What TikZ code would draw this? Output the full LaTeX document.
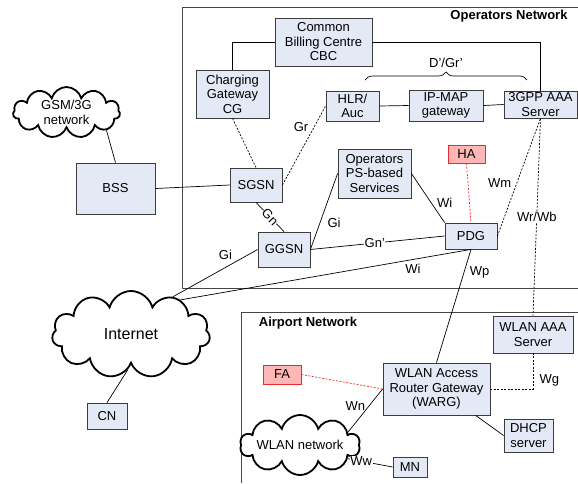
\documentclass[tikz,border=0pt]{standalone}
\usepackage{fontspec}
\setmainfont{Liberation Sans}
\usetikzlibrary{shapes.symbols, decorations.pathreplacing}

\definecolor{boxfill}{RGB}{228,234,245}
\definecolor{boxline}{RGB}{60,60,60}
\definecolor{hafill}{RGB}{255,182,182}
\definecolor{haline}{RGB}{240,40,40}
\definecolor{frameline}{RGB}{70,70,70}

\begin{document}
\begin{tikzpicture}[
                x=1pt, y=-1pt,
                font=\fontsize{13}{14.5}\selectfont,
                box/.style={draw=boxline, fill=boxfill, line width=0.8pt, inner sep=0pt, align=center},
                redbox/.style={draw=haline, fill=hafill, line width=0.8pt, inner sep=0pt},
                netcloud/.style={cloud, cloud puffs=11, cloud ignores aspect, draw, line width=1.8pt, fill=white, inner sep=0pt, align=center},
                link/.style={line width=0.7pt},
                dlink/.style={line width=0.7pt, dash pattern=on 2pt off 1.5pt},
                rlink/.style={line width=0.7pt, haline, dash pattern=on 2pt off 1.5pt},
                onlink/.style={fill=white, inner sep=0.5pt},
                frame/.style={draw=frameline, line width=1pt},
                title/.style={font=\fontsize{13}{14.5}\selectfont\bfseries}
                ]
                \useasboundingbox (0,0) rectangle (578,483);

                % Define the frames
                \draw[frame] (578,7) -- (182,7) -- (182,288) -- (578,288);
                \draw[frame] (578,312) -- (241,312) -- (241,483);
                \node (opnet) [title] at (509,16) {Operators Network};
                \node (apnet) [title] at (308,323) {Airport Network};

                % Define the nodes
                \node (cbc) [box, minimum width=97pt, minimum height=48pt] at (323.5,42) {Common\\Billing Centre\\CBC};
                \node (cg) [box, minimum width=73pt, minimum height=48pt] at (232.5,94) {Charging\\Gateway\\CG};
                \node (hlr) [box, minimum width=53pt, minimum height=30pt] at (352.5,106) {HLR/\\Auc};
                \node (ipmap) [box, minimum width=74pt, minimum height=31pt] at (446,105.5) {IP-MAP\\gateway};
                \node (aaa) [box, minimum width=73pt, minimum height=27pt] at (540.5,104.5) {3GPP AAA\\Server};
                \node (ha) [redbox, minimum width=37pt, minimum height=18pt] at (466.5,154) {HA};
                \node (ops) [box, minimum width=73pt, minimum height=49pt] at (374.5,173.5) {Operators\\PS-based\\Services};
                \node (pdg) [box, minimum width=52pt, minimum height=26pt] at (471,236) {PDG};
                \node (sgsn) [box, minimum width=52pt, minimum height=34pt] at (256,185) {SGSN};
                \node (bss) [box, minimum width=79pt, minimum height=51pt] at (115.5,188.5) {BSS};
                \node (ggsn) [box, minimum width=52pt, minimum height=35pt] at (284,249.5) {GGSN};
                \node (cn) [box, minimum width=40pt, minimum height=26pt] at (107,416) {CN};
                \node (fa) [redbox, minimum width=38pt, minimum height=19pt] at (282,374.5) {FA};
                \node (warg) [box, minimum width=107pt, minimum height=52pt] at (436.5,389) {WLAN Access\\Router Gateway\\(WARG)};
                \node (wlanaaa) [box, minimum width=80pt, minimum height=37pt] at (533,334.5) {WLAN AAA\\Server};
                \node (dhcp) [box, minimum width=49pt, minimum height=33pt] at (528.5,435.5) {DHCP\\server};
                \node (mn) [box, minimum width=34pt, minimum height=20pt] at (410,467) {MN};

                \node (gsm) [netcloud, minimum width=107pt, minimum height=51pt] at (66.5,112.5) {GSM/3G\\network};
                \node (inet) [netcloud, minimum width=158pt, minimum height=87pt, font=\fontsize{16}{18}\selectfont] at (131,334.5) {Internet};
                \node (wlan) [netcloud, cloud puffs=10, minimum width=114pt, minimum height=60pt] at (300,445) {WLAN network};

                % Draw the links
                \draw[link] (cg.north) |- (cbc.west);
                \draw[link] (cbc.east) -| (aaa.north);
                \draw[link] (hlr.east) -- (ipmap.west);
                \draw[link] (ipmap.east) -- (aaa.west);
                \coordinate (brl) at (365,80);
                \coordinate (brr) at (527,80);
                \draw[link, decorate, decoration={brace, amplitude=8pt}] (brl) -- (brr)
                    node (dgr) [midway, above=9pt] {D'/Gr'};

                \draw[link] (gsm.-24) -- (bss.north);
                \draw[link] (bss.east) -- (sgsn.west);
                \draw[dlink] (cg.south) -- (sgsn.north);
                \draw[dlink] (sgsn.east) -- (hlr.west) node [pos=0.73, left=2pt] {Gr};
                \draw[link] (sgsn.south) -- (ggsn.north) node [onlink, midway, sloped] {Gn};
                \draw[link] (ggsn.east) -- (ops.west) node [pos=0.35, right=4pt] {Gi};
                \draw[link] (ggsn.east) -- (pdg.west) node [onlink, pos=0.48] {Gn'};
                \draw[link] (ops.east) -- (pdg.north west) node [pos=0.6, right=2pt] {Wi};
                \draw[rlink] (ha.south) -- (pdg.north);
                \draw[dlink] (pdg.east) -- (aaa.south) node [pos=0.45, left=2pt] {Wm};
                \draw[dlink] (aaa.south) -- (wlanaaa.north) node [onlink, pos=0.5] {Wr/Wb};

                \draw[link] (inet.42) -- (ggsn.west) node [pos=0.62, above=4pt] {Gi};
                \draw[link] (inet.35) -- (pdg.south) node [pos=0.8, below=1pt] {Wi};
                \draw[link] (inet.-95) -- (cn.north);
                \draw[link] (pdg.south) -- (warg.north) node [pos=0.2, right=2pt] {Wp};

                \draw[rlink] (fa.east) -- (warg.west);
                \draw[link] (wlan.15) -- (warg.west) node [pos=0.6, left=0pt] {Wn};
                \draw[link] (wlan.-16) -- (mn.west) node [onlink, pos=0.3] {Ww};
                \draw[link] (warg.-34) -- (dhcp.west);
                \draw[dlink] (warg.east) -| (wlanaaa.south) node [pos=0.62, right=3pt] {Wg};
            \end{tikzpicture}
\end{document}
